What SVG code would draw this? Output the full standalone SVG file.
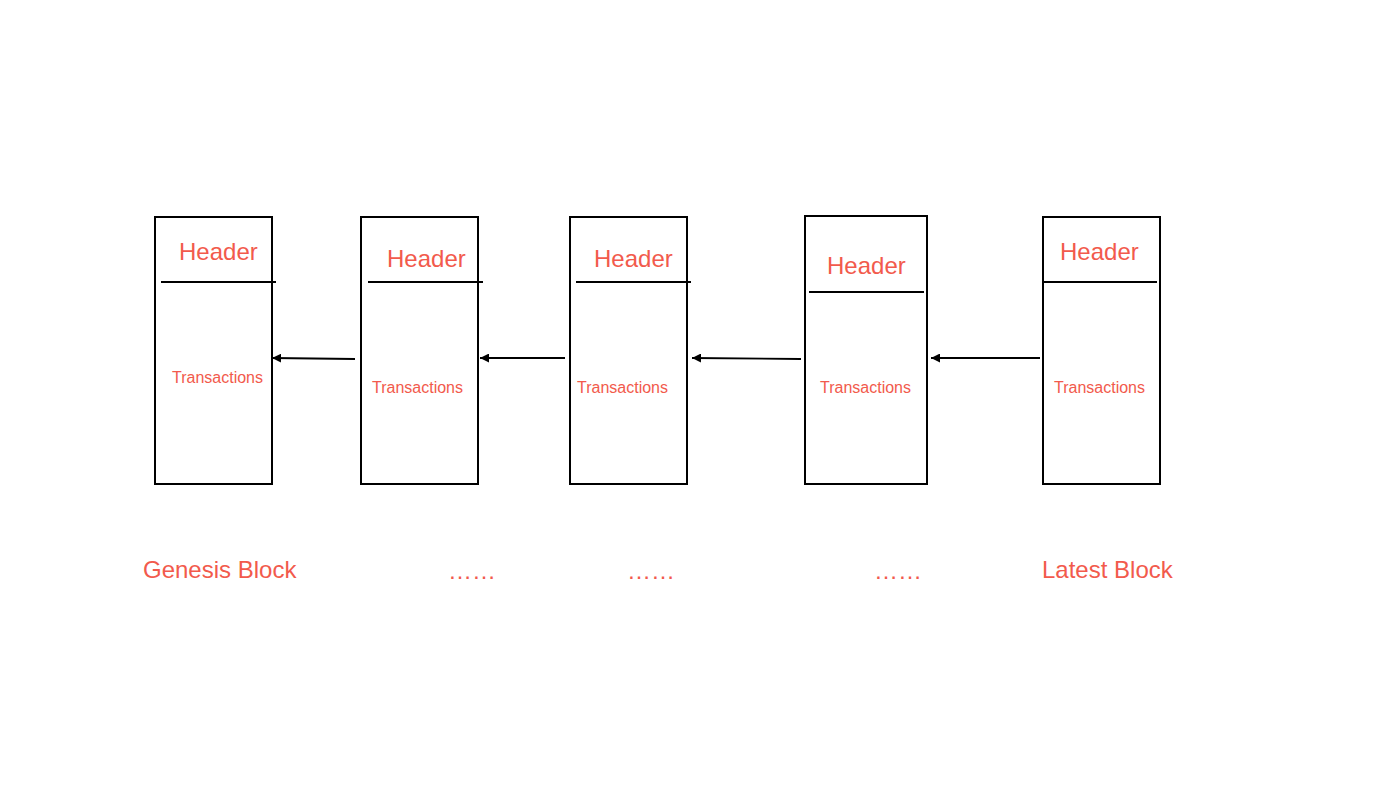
<svg xmlns="http://www.w3.org/2000/svg" width="1390" height="806" viewBox="0 0 1390 806">
<style>
.box{fill:#fff;stroke:#000;stroke-width:2}
.sep{stroke:#000;stroke-width:2}
.hdr{font-family:"Liberation Sans",Arial,sans-serif;font-size:24px;fill:#F25A4C}
.tx{font-family:"Liberation Sans",Arial,sans-serif;font-size:16px;fill:#F25A4C}
.lbl{font-family:"Liberation Sans",Arial,sans-serif;font-size:24px;fill:#F25A4C}
.conn{stroke:#000;stroke-width:1.8;fill:none;marker-end:url(#ah)}
</style>
<defs>
<marker id="ah" viewBox="0 0 10 10" refX="10" refY="5" markerWidth="5.5" markerHeight="5" markerUnits="strokeWidth" orient="auto">
<path d="M0,0 L10,5 L0,10 Z" fill="#000"/>
</marker>
</defs>
<rect width="1390" height="806" fill="#fff"/>
<g id="block1">
<rect class="box" x="155" y="217" width="117" height="267"/>
<line class="sep" x1="161" y1="282" x2="276" y2="282"/>
<text class="hdr" x="179" y="260">Header</text>
<text class="tx" x="172" y="383">Transactions</text>
</g>
<g id="block2">
<rect class="box" x="361" y="217" width="117" height="267"/>
<line class="sep" x1="368" y1="282" x2="483" y2="282"/>
<text class="hdr" x="387" y="267">Header</text>
<text class="tx" x="372" y="393">Transactions</text>
</g>
<g id="block3">
<rect class="box" x="570" y="217" width="117" height="267"/>
<line class="sep" x1="576" y1="282" x2="691" y2="282"/>
<text class="hdr" x="594" y="267">Header</text>
<text class="tx" x="577" y="393">Transactions</text>
</g>
<g id="block4">
<rect class="box" x="805" y="216" width="122" height="268"/>
<line class="sep" x1="809" y1="292" x2="924" y2="292"/>
<text class="hdr" x="827" y="274">Header</text>
<text class="tx" x="820" y="393">Transactions</text>
</g>
<g id="block5">
<rect class="box" x="1043" y="217" width="117" height="267"/>
<line class="sep" x1="1043" y1="282" x2="1157" y2="282"/>
<text class="hdr" x="1060" y="260">Header</text>
<text class="tx" x="1054" y="393">Transactions</text>
</g>
<g id="connectors">
<line class="conn" x1="355" y1="359" x2="272" y2="358"/>
<line class="conn" x1="565" y1="358" x2="480" y2="358"/>
<line class="conn" x1="801" y1="359" x2="692" y2="358"/>
<line class="conn" x1="1040" y1="358" x2="931" y2="358"/>
</g>
<g id="labels">
<text class="lbl" x="143" y="578">Genesis Block</text>
<text class="lbl" x="448" y="579">……</text>
<text class="lbl" x="627" y="579">……</text>
<text class="lbl" x="874" y="579">……</text>
<text class="lbl" x="1042" y="578">Latest Block</text>
</g>
</svg>
